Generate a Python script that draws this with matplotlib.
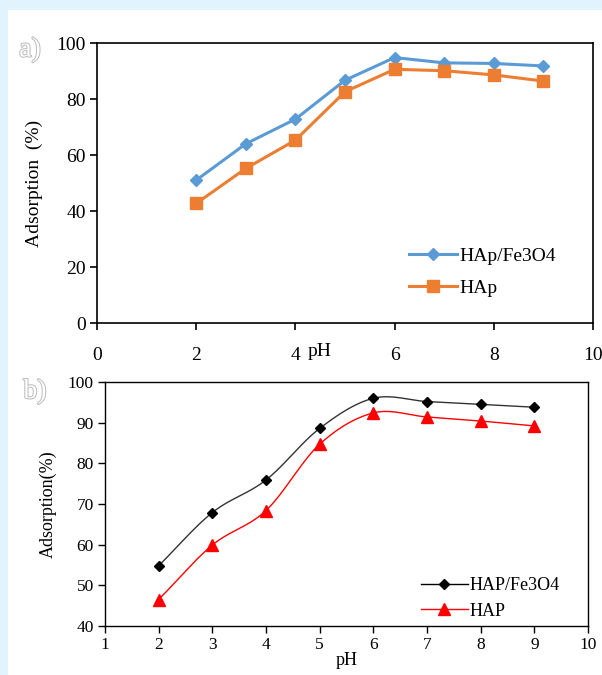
import numpy as np
import matplotlib
matplotlib.use("Agg")
import matplotlib.pyplot as plt
import matplotlib.patheffects as pe
from matplotlib.patches import Rectangle

# ---- data ----
ph = [2, 3, 4, 5, 6, 7, 8, 9]

# panel a
hap_fe3o4_a = [51, 64, 72.8, 86.7, 94.8, 92.9, 92.7, 91.8]
hap_a = [42.7, 55.2, 65.3, 82.6, 90.6, 90.1, 88.6, 86.4]

# panel b
hap_fe3o4_b = [54.8, 67.9, 75.9, 88.6, 96.0, 95.2, 94.5, 93.8]
hap_b = [46.5, 59.9, 68.4, 84.7, 92.4, 91.4, 90.4, 89.2]

BLUE = "#5B9BD5"
ORANGE = "#ED7D31"
SERIF = "Liberation Serif"

plt.rcParams["font.family"] = SERIF


def smooth(x, y, n=20):
    """Catmull-Rom path through the points (like Excel's smoothed line)."""
    x = np.asarray(x, float)
    y = np.asarray(y, float)
    px = np.concatenate([[2 * x[0] - x[1]], x, [2 * x[-1] - x[-2]]])
    py = np.concatenate([[2 * y[0] - y[1]], y, [2 * y[-1] - y[-2]]])
    xs, ys = [], []
    t = np.linspace(0, 1, n, endpoint=False)
    for i in range(1, len(px) - 2):
        for arr, out in ((px, xs), (py, ys)):
            p0, p1, p2, p3 = arr[i - 1], arr[i], arr[i + 1], arr[i + 2]
            out.extend(0.5 * (2 * p1 + (-p0 + p2) * t
                              + (2 * p0 - 5 * p1 + 4 * p2 - p3) * t ** 2
                              + (-p0 + 3 * p1 - 3 * p2 + p3) * t ** 3))
    xs.append(x[-1])
    ys.append(y[-1])
    return xs, ys


W, H = 602, 675
fig = plt.figure(figsize=(W / 100, H / 100), dpi=100)
fig.patch.set_facecolor("#E1F3FC")
fig.patches.append(Rectangle((8 / W, 0), 1, 1 - 10 / H, transform=fig.transFigure,
                             facecolor="white", edgecolor="none", zorder=-1))

# ---------------- panel a ----------------
ax1 = fig.add_axes([97 / W, 1 - 323 / H, (593 - 97) / W, (323 - 43) / H])
ax1.plot(ph, hap_fe3o4_a, color=BLUE, lw=2.2, marker="D", ms=6,
         label="HAp/Fe3O4")
ax1.plot(ph, hap_a, color=ORANGE, lw=2.2, marker="s", ms=8, label="HAp")
ax1.set_xlim(0, 10)
ax1.set_ylim(0, 100)
ax1.set_xticks(range(0, 11, 2))
ax1.set_yticks(range(0, 101, 20))
ax1.tick_params(direction="out", length=5, width=1.2, labelsize=14, pad=3)
ax1.tick_params(axis="x", pad=12)
for s in ax1.spines.values():
    s.set_linewidth(1.2)
ax1.set_ylabel("Adsorption  (%)", fontsize=14, labelpad=10)
fig.text(320 / W, 1 - 351 / H, "pH", fontsize=14, ha="center", va="center")
ax1.legend(loc="lower right", bbox_to_anchor=(0.96, 0.03), frameon=False,
           fontsize=14, handlelength=2.5, handletextpad=0.1, labelspacing=0.75)
ax1.text(-0.135, 0.975, "a)", transform=ax1.transAxes, fontsize=20,
         color="white", ha="center", va="center",
         path_effects=[pe.withStroke(linewidth=1.4, foreground="#BBBBBB")])

# ---------------- panel b ----------------
ax2 = fig.add_axes([105 / W, 1 - 626 / H, (588 - 105) / W, (626 - 382) / H])
xs, ys = smooth(ph, hap_fe3o4_b)
ax2.plot(xs, ys, color="#333333", lw=1.0)
ax2.plot(ph, hap_fe3o4_b, color="black", lw=0, marker="D", ms=5)
xs, ys = smooth(ph, hap_b)
ax2.plot(xs, ys, color="red", lw=1.0)
ax2.plot(ph, hap_b, color="red", lw=0, marker="^", ms=8)
ax2.plot([], [], color="black", lw=1.0, marker="D", ms=5, label="HAP/Fe3O4")
ax2.plot([], [], color="red", lw=1.0, marker="^", ms=8, label="HAP")
ax2.set_xlim(1, 10)
ax2.set_ylim(40, 100)
ax2.set_xticks(range(1, 11))
ax2.set_yticks(range(40, 101, 10))
ax2.tick_params(direction="out", length=5, width=1.0, labelsize=12.5, pad=3)
for s in ax2.spines.values():
    s.set_linewidth(1.0)
ax2.set_ylabel("Adsorption(%)", fontsize=13, labelpad=8)
ax2.set_xlabel("pH", fontsize=13, labelpad=-1)
ax2.legend(loc="lower right", bbox_to_anchor=(0.975, -0.04), frameon=False,
           fontsize=13, handlelength=2.6, handletextpad=0.1, labelspacing=0.45)
ax2.text(-0.145, 0.96, "b)", transform=ax2.transAxes, fontsize=20,
         color="white", ha="center", va="center",
         path_effects=[pe.withStroke(linewidth=1.4, foreground="#BBBBBB")])

fig.savefig("out.png", dpi=100)
